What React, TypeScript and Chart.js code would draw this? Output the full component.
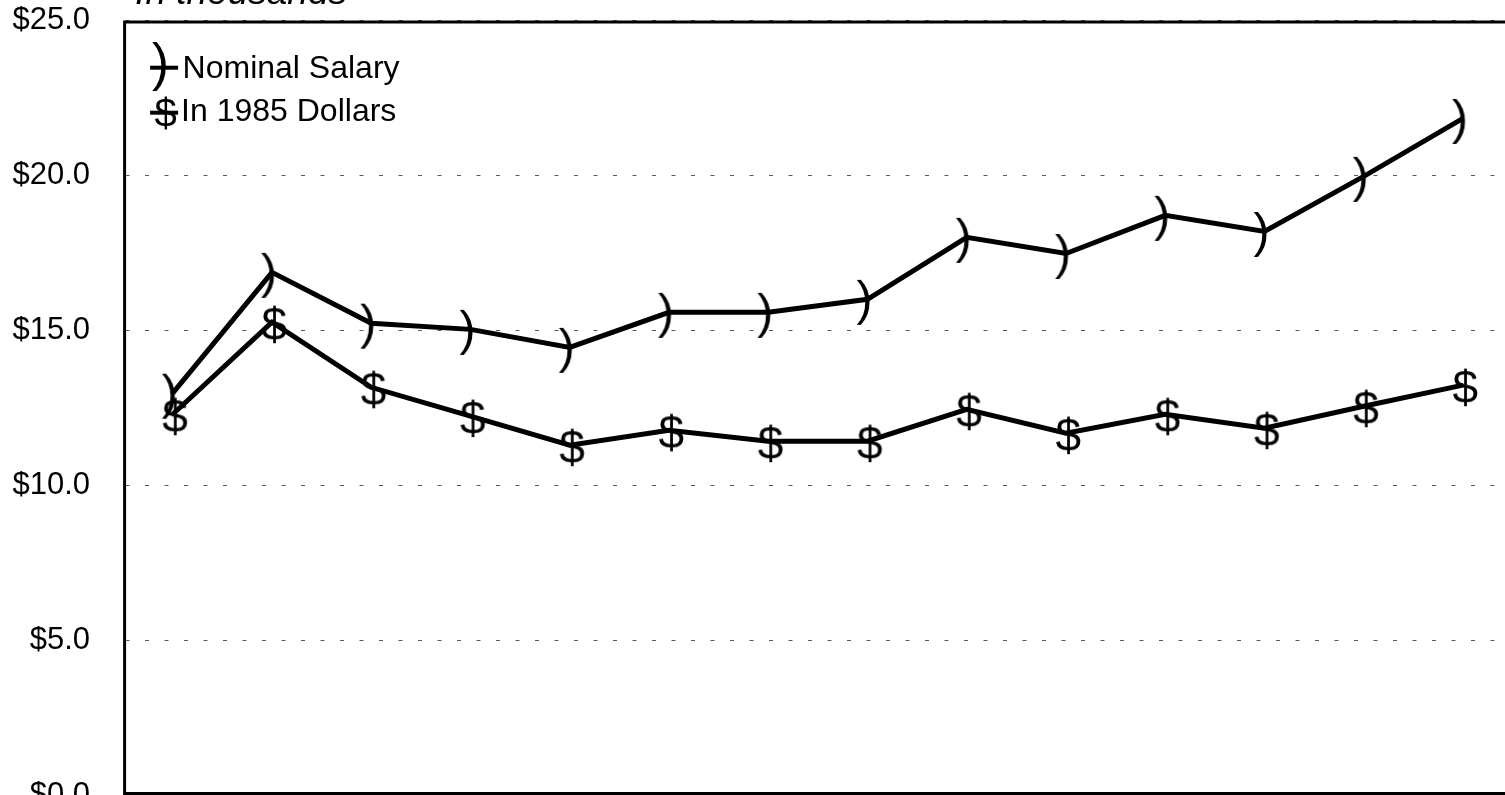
import React, { useEffect, useRef } from "react";
import { Chart, registerables } from "chart.js";

Chart.register(...registerables);

// Survey years (not labelled on the axis)
const years = [
  "1972", "1973", "1974", "1975", "1976", "1977", "1978",
  "1979", "1980", "1981", "1982", "1983", "1984", "1985",
];

// Average salary, thousands of dollars
const nominalSalary = [
  12.97, 16.87, 15.23, 15.03, 14.45, 15.58, 15.58,
  16.0, 18.0, 17.48, 18.71, 18.19, 19.97, 21.84,
];
const salaryIn1985Dollars = [
  12.29, 15.26, 13.16, 12.23, 11.29, 11.77, 11.42,
  11.42, 12.45, 11.68, 12.29, 11.84, 12.55, 13.23,
];

const seriesLabels = ["Nominal Salary", "In 1985 Dollars"];
const seriesGlyphs = [")", "$"];
const yMin = 0;
const yMax = 25;
const yStep = 5;
const unitNote = "In thousands";

const FONT = '"Liberation Sans", Arial, Helvetica, sans-serif';

// Draw a character so that the centre of its ink lands on (cx, cy)
function drawGlyph(ctx: CanvasRenderingContext2D, ch: string, size: number, cx: number, cy: number) {
  ctx.save();
  ctx.font = `${size}px ${FONT}`;
  ctx.textAlign = "left";
  ctx.textBaseline = "alphabetic";
  const m = ctx.measureText(ch);
  const x = cx - (m.actualBoundingBoxRight - m.actualBoundingBoxLeft) / 2;
  const y = cy - (m.actualBoundingBoxDescent - m.actualBoundingBoxAscent) / 2;
  ctx.fillStyle = "#000";
  ctx.fillText(ch, x, y);
  ctx.restore();
}

// Marker image for a data point; (dx, dy) shifts the ink from the point
function makeMarker(ch: string, size: number, dx: number, dy: number): HTMLCanvasElement {
  const c = document.createElement("canvas");
  const s = Math.ceil(size * 1.6);
  c.width = s;
  c.height = s;
  const ctx = c.getContext("2d")!;
  drawGlyph(ctx, ch, size, s / 2 + dx, s / 2 + dy);
  return c;
}

// Plot frame, unit note and the legend inside the plot area
const decorations = {
  id: "decorations",
  afterDraw(chart: Chart) {
    const { ctx, chartArea } = chart;
    const { left, top, right, bottom } = chartArea;
    ctx.save();

    ctx.strokeStyle = "#000";
    ctx.lineWidth = 3;
    ctx.strokeRect(left + 1.5, top + 1.5, right - left - 3, bottom - top - 3);

    ctx.font = `italic 37px ${FONT}`;
    ctx.fillStyle = "#000";
    ctx.textAlign = "left";
    ctx.textBaseline = "alphabetic";
    ctx.fillText(unitNote, left + 12, top - 16.5);

    const rows = [
      { lineY: 47.2, glyphX: 36, glyphY: 45.5, glyphSize: 51, textX: 59.5, baseline: 57.5 },
      { lineY: 92.2, glyphX: 42.4, glyphY: 92, glyphSize: 40, textX: 58, baseline: 100.5 },
    ];
    chart.data.datasets.forEach((ds, i) => {
      const r = rows[i];
      ctx.strokeStyle = "#000";
      ctx.lineWidth = 4;
      ctx.beginPath();
      ctx.moveTo(left + 27, top + r.lineY);
      ctx.lineTo(left + 55, top + r.lineY);
      ctx.stroke();
      drawGlyph(ctx, seriesGlyphs[i], r.glyphSize, left + r.glyphX, top + r.glyphY);
      ctx.font = `32px ${FONT}`;
      ctx.fillStyle = "#000";
      ctx.textAlign = "left";
      ctx.textBaseline = "alphabetic";
      ctx.fillText(String(ds.label), left + r.textX, top + r.baseline);
    });

    ctx.restore();
  },
};

export default function App() {
  const ref = useRef<HTMLCanvasElement>(null);

  useEffect(() => {
    const canvas = ref.current;
    if (!canvas) return;
    const markers = [makeMarker(seriesGlyphs[0], 48, -4, 3), makeMarker(seriesGlyphs[1], 46, 2, 1.5)];

    const chart = new Chart(canvas, {
      type: "line",
      data: {
        labels: years,
        datasets: [
          {
            label: seriesLabels[0],
            data: nominalSalary,
            borderColor: "#000",
            backgroundColor: "#000",
            borderWidth: 5,
            pointStyle: markers[0],
            pointRadius: 5,
            pointBorderWidth: 0,
            tension: 0,
            fill: false,
          },
          {
            label: seriesLabels[1],
            data: salaryIn1985Dollars,
            borderColor: "#000",
            backgroundColor: "#000",
            borderWidth: 5,
            pointStyle: markers[1],
            pointRadius: 5,
            pointBorderWidth: 0,
            tension: 0,
            fill: false,
          },
        ],
      },
      options: {
        responsive: false,
        animation: false,
        devicePixelRatio: 1,
        events: [],
        layout: { padding: { left: 0, top: 60.5, right: 17.4, bottom: 65 } },
        plugins: {
          legend: { display: false },
          tooltip: { enabled: false },
          title: { display: false },
        },
        scales: {
          x: { type: "category", offset: true, display: false },
          y: {
            min: yMin,
            max: yMax,
            ticks: {
              stepSize: yStep,
              padding: 33,
              color: "#000",
              font: { family: FONT, size: 31 },
              callback: (v: any) => "$" + Number(v).toFixed(1),
            },
            grid: { color: "#5a5a5a", lineWidth: 1, drawTicks: false, tickLength: 0 },
            border: { display: false, dash: [4, 15.5], dashOffset: 17 },
            afterFit: (s: any) => {
              s.width = 123.1;
            },
          },
        },
      },
      plugins: [decorations],
    });

    return () => chart.destroy();
  }, []);

  return (
    <div style={{ position: "fixed", left: 0, top: -40, width: 1530, height: 900, background: "#fff" }}>
      <canvas ref={ref} width={1530} height={900} style={{ display: "block" }} />
    </div>
  );
}
